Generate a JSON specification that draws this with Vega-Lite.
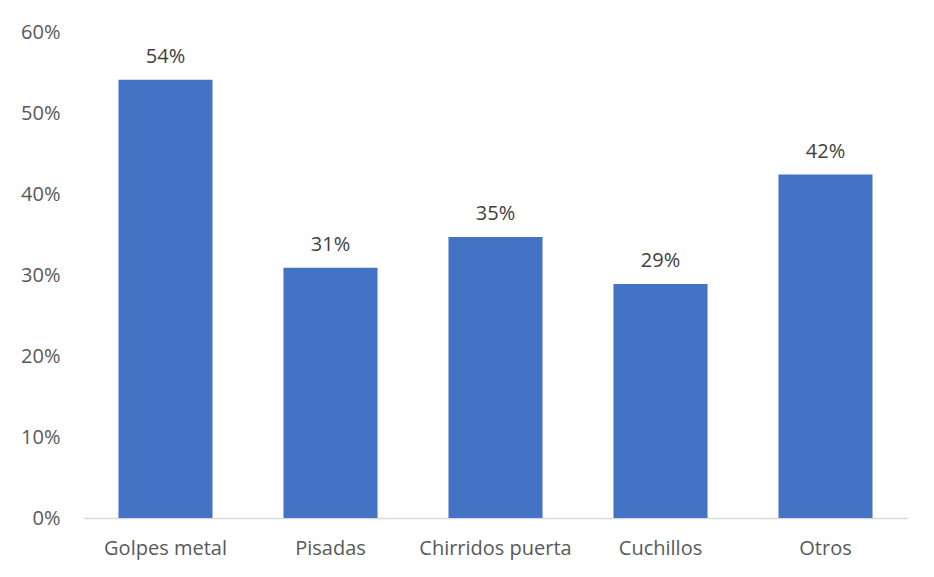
{
  "$schema": "https://vega.github.io/schema/vega-lite/v6.json",
  "autosize": "none",
  "width": 825,
  "height": 486,
  "padding": {"left": 83, "top": 32, "right": 26, "bottom": 59},
  "background": "white",
  "data": {"values": [
    {"cat": "Golpes metal", "v": 0.541},
    {"cat": "Pisadas", "v": 0.309},
    {"cat": "Chirridos puerta", "v": 0.347},
    {"cat": "Cuchillos", "v": 0.289},
    {"cat": "Otros", "v": 0.424}
  ]},
  "config": {
    "view": {"stroke": null},
    "font": "Open Sans"
  },
  "encoding": {
    "x": {"field": "cat", "type": "nominal", "sort": null,
      "scale": {"paddingInner": 0.43, "paddingOuter": 0.215},
      "axis": {"title": null, "labelAngle": 0, "ticks": false, "domainColor": "#d9d9d9", "domainWidth": 1.3,
        "labelFont": "Open Sans", "labelFontSize": 20, "labelColor": "#595959", "labelPadding": 20, "labelOverlap": false}},
    "y": {"field": "v", "type": "quantitative",
      "scale": {"domain": [0, 0.6], "nice": false},
      "axis": {"title": null, "format": ".0%", "values": [0, 0.1, 0.2, 0.3, 0.4, 0.5, 0.6], "grid": false, "domain": false, "ticks": false,
        "labelFont": "Open Sans", "labelFontSize": 20, "labelColor": "#595959", "labelPadding": 23, "labelOverlap": false}}
  },
  "layer": [
    {"mark": {"type": "bar", "color": "#4472C4"}},
    {"mark": {"type": "text", "baseline": "bottom", "dy": -13, "font": "Open Sans", "fontSize": 20, "color": "#404040"},
      "encoding": {"text": {"field": "v", "type": "quantitative", "format": ".0%"}}}
  ]
}
